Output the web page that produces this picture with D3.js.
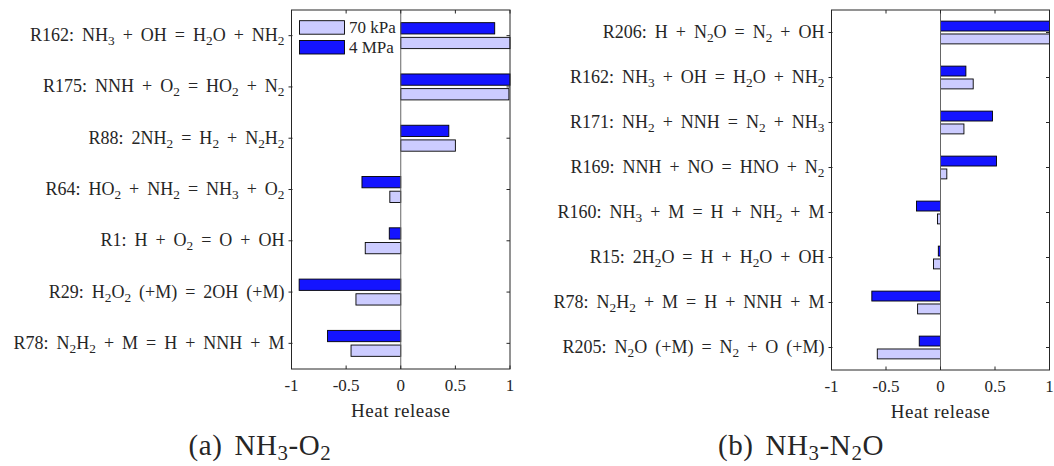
<!DOCTYPE html>
<html><head><meta charset="utf-8">
<script src="https://cdn.jsdelivr.net/npm/d3@7"></script>
<style>
body{margin:0;background:#fff}
svg text{font-family:"Liberation Serif","DejaVu Serif",serif;fill:#262626}
</style></head><body>
<svg id="c" width="1054" height="466"></svg>
<script>
// ---- data ----
const seriesNames = ["70 kPa", "4 MPa"];
const catsA = [
  "R162: NH_3 + OH = H_2O + NH_2",
  "R175: NNH + O_2 = HO_2 + N_2",
  "R88: 2NH_2 = H_2 + N_2H_2",
  "R64: HO_2 + NH_2 = NH_3 + O_2",
  "R1: H + O_2 = O + OH",
  "R29: H_2O_2 (+M) = 2OH (+M)",
  "R78: N_2H_2 + M = H + NNH + M"
];
const lowA  = [1.00, 0.99, 0.50, -0.10, -0.325, -0.41, -0.455];   // 70 kPa
const highA = [0.86, 1.00, 0.44, -0.355, -0.105, -0.93, -0.67];   // 4 MPa
const catsB = [
  "R206: H + N_2O = N_2 + OH",
  "R162: NH_3 + OH = H_2O + NH_2",
  "R171: NH_2 + NNH = N_2 + NH_3",
  "R169: NNH + NO = HNO + N_2",
  "R160: NH_3 + M = H + NH_2 + M",
  "R15: 2H_2O = H + H_2O + OH",
  "R78: N_2H_2 + M = H + NNH + M",
  "R205: N_2O (+M) = N_2 + O (+M)"
];
const lowB  = [1.00, 0.30, 0.215, 0.058, -0.028, -0.064, -0.21, -0.58]; // 70 kPa
const highB = [1.00, 0.233, 0.477, 0.514, -0.22, -0.02, -0.63, -0.195]; // 4 MPa
const xTicks = [-1, -0.5, 0, 0.5, 1];
const xTickLabels = ["-1", "-0.5", "0", "0.5", "1"];
const xLabel = "Heat release";
const captions = ["(a) NH_3-O_2", "(b) NH_3-N_2O"];

const colLow = "#ccccff", colHigh = "#1414ff", axCol = "#262626";
const svg = d3.select("#c");

function rich(sel, str, subShift, subSize) {
  const parts = str.split(/_(\d)/);
  let down = false;
  parts.forEach((p, i) => {
    if (p === "") return;
    if (i % 2 === 1) {
      sel.append("tspan").attr("dy", subShift).attr("font-size", subSize).text(p);
      down = true;
    } else {
      const t = sel.append("tspan").text(p);
      if (down) { t.attr("dy", -subShift); down = false; }
    }
  });
}

function panel(cats, low, high, box) {
  const g = svg.append("g");
  const x = d3.scaleLinear().domain([-1, 1]).range([box.x0, box.x1]);
  const y = d3.scaleLinear().domain([0.5, cats.length + 0.5]).range([box.y0, box.y1]);
  const bw = 0.22, off = 0.143;
  const idx = d3.range(cats.length);
  g.selectAll(".hi").data(idx).join("rect")
    .attr("x", i => x(Math.min(0, high[i])))
    .attr("width", i => Math.abs(x(high[i]) - x(0)))
    .attr("y", i => y(i + 1 - off - bw / 2))
    .attr("height", y(bw) - y(0))
    .attr("fill", colHigh).attr("stroke", "#000").attr("stroke-width", 0.9);
  g.selectAll(".lo").data(idx).join("rect")
    .attr("x", i => x(Math.min(0, low[i])))
    .attr("width", i => Math.abs(x(low[i]) - x(0)))
    .attr("y", i => y(i + 1 + off - bw / 2))
    .attr("height", y(bw) - y(0))
    .attr("fill", colLow).attr("stroke", "#000").attr("stroke-width", 0.9);
  g.append("line").attr("x1", x(0)).attr("x2", x(0)).attr("y1", box.y0).attr("y2", box.y1)
    .attr("stroke", "#666").attr("stroke-width", 1);
  g.append("rect").attr("x", box.x0).attr("y", box.y0)
    .attr("width", box.x1 - box.x0).attr("height", box.y1 - box.y0)
    .attr("fill", "none").attr("stroke", axCol).attr("stroke-width", 1);
  xTicks.forEach((t, k) => {
    g.append("line").attr("x1", x(t)).attr("x2", x(t)).attr("y1", box.y0).attr("y2", box.y0 + 3.5).attr("stroke", axCol);
    g.append("line").attr("x1", x(t)).attr("x2", x(t)).attr("y1", box.y1).attr("y2", box.y1 - 3.5).attr("stroke", axCol);
    g.append("text").attr("x", x(t)).attr("y", box.y1 + 22).attr("text-anchor", "middle")
      .attr("font-size", 17).text(xTickLabels[k]);
  });
  g.append("text").attr("x", x(0)).attr("y", box.y1 + 48).attr("text-anchor", "middle")
    .attr("font-size", 19).style("letter-spacing", "0.5px").text(xLabel);
  idx.forEach(i => {
    const yy = y(i + 1);
    g.append("line").attr("x1", box.x0 - 3).attr("x2", box.x0 + 1).attr("y1", yy).attr("y2", yy).attr("stroke", axCol);
    g.append("line").attr("x1", box.x1 - 3.5).attr("x2", box.x1).attr("y1", yy).attr("y2", yy).attr("stroke", axCol);
    const t = g.append("text").attr("x", box.x0 - 7).attr("y", yy + 5.5).attr("text-anchor", "end")
      .attr("font-size", 18).style("word-spacing", "3.5px");
    rich(t, cats[i], 4, "74%");
  });
  return x;
}

panel(catsA, lowA, highA, {x0: 291.5, x1: 510, y0: 10, y1: 369});
panel(catsB, lowB, highB, {x0: 831.5, x1: 1049.5, y0: 10, y1: 370});

const leg = svg.append("g");
[[seriesNames[0], colLow, 20.7], [seriesNames[1], colHigh, 40.5]].forEach(([n, c, yy]) => {
  leg.append("rect").attr("x", 299.5).attr("y", yy).attr("width", 45).attr("height", 13.5)
    .attr("fill", c).attr("stroke", "#000").attr("stroke-width", 0.9);
  leg.append("text").attr("x", 349).attr("y", yy + 12.5).attr("font-size", 17).text(n);
});

[[captions[0], 260], [captions[1], 801]].forEach(([c, cx]) => {
  const t = svg.append("text").attr("x", cx).attr("y", 455).attr("text-anchor", "middle")
    .attr("font-size", 29).style("word-spacing", "4px").style("letter-spacing", "0.6px");
  rich(t, c, 5, "72%");
});
</script>
</body></html>
